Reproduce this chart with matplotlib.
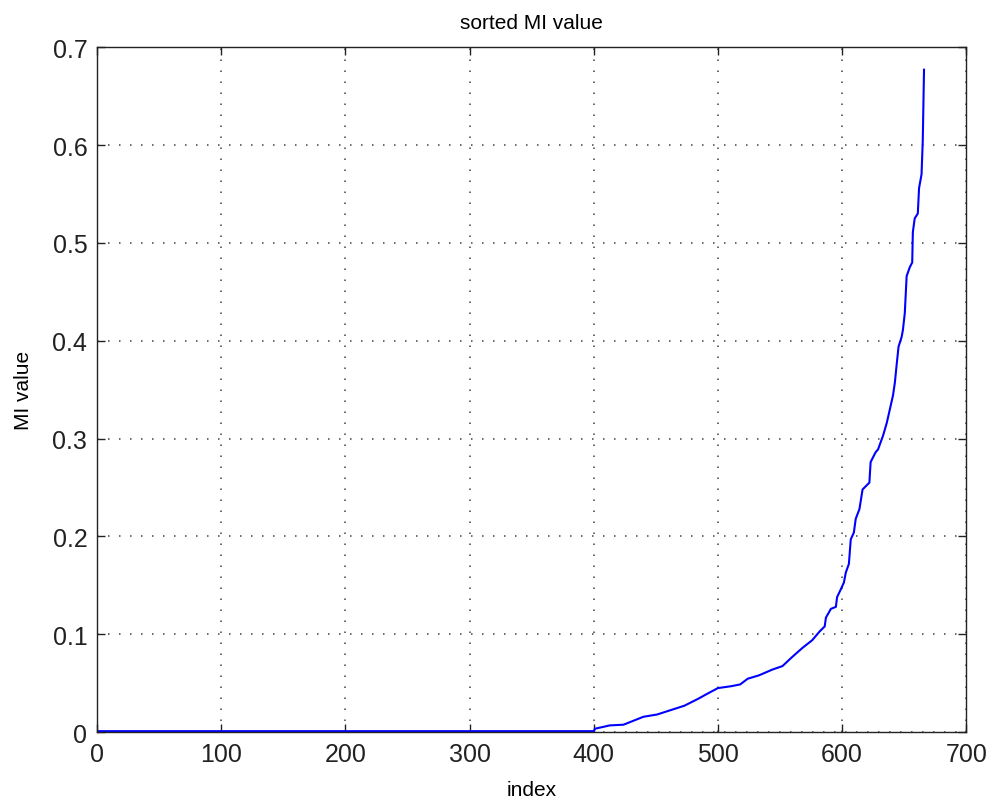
import numpy as np
import matplotlib.pyplot as plt

# points
idx = [1, 400, 401, 413, 424, 440, 451, 462, 473, 484, 492, 500, 511, 518,
       524, 533, 544, 552, 560, 568, 576, 582, 586, 587, 591, 595, 596, 599,
       601.5, 603, 605.5, 607, 609.5, 611, 614, 615, 616.5, 622, 623, 627,
       629, 633, 636, 638.5, 641, 642.5, 644, 645.5, 648, 649, 650.5, 652,
       654.5, 656.5, 657, 658.5, 661, 662, 664, 665, 666]
mi = [0.001, 0.001, 0.0035, 0.0069, 0.0076, 0.0157, 0.018, 0.0225, 0.027,
      0.034, 0.0396, 0.045, 0.047, 0.0488, 0.0546, 0.058, 0.064, 0.0675,
      0.077, 0.086, 0.094, 0.103, 0.108, 0.117, 0.126, 0.128, 0.138, 0.146,
      0.153, 0.163, 0.172, 0.197, 0.204, 0.218, 0.228, 0.236, 0.248, 0.255,
      0.276, 0.286, 0.289, 0.303, 0.316, 0.33, 0.344, 0.357, 0.376, 0.394,
      0.404, 0.411, 0.428, 0.466, 0.475, 0.48, 0.511, 0.525, 0.53, 0.556,
      0.57, 0.605, 0.677]

xticks = np.arange(0, 701, 100)
yticks = np.round(np.arange(0, 0.71, 0.1), 1)

plt.rcParams['font.family'] = ['Liberation Sans', 'DejaVu Sans']

fig = plt.figure(figsize=(9.9, 8.03), dpi=100)
ax = fig.add_axes([0.098, 0.087, 0.878, 0.853])
ax.plot(idx, mi, color="#0000ff", linewidth=1.5)

ax.set_xlim(0, 700)
ax.set_ylim(0, 0.7)
ax.set_xticks(xticks)
ax.set_yticks(yticks)
ax.set_yticklabels([("%g" % v) for v in yticks])
ax.tick_params(direction="in", length=6, width=1, top=True, right=True,
               labelsize=18, pad=7, colors="#222222")
ax.grid(True, linestyle=(0, (1, 6.2)), color="#444444", linewidth=1.1)
for s in ax.spines.values():
    s.set_linewidth(1)
    s.set_color("#222222")

ax.set_title("sorted MI value", fontsize=15, pad=14)
ax.set_xlabel("index", fontsize=15, labelpad=10)
ax.set_ylabel("MI value", fontsize=15, labelpad=14)

fig.savefig("out.png", dpi=100)
